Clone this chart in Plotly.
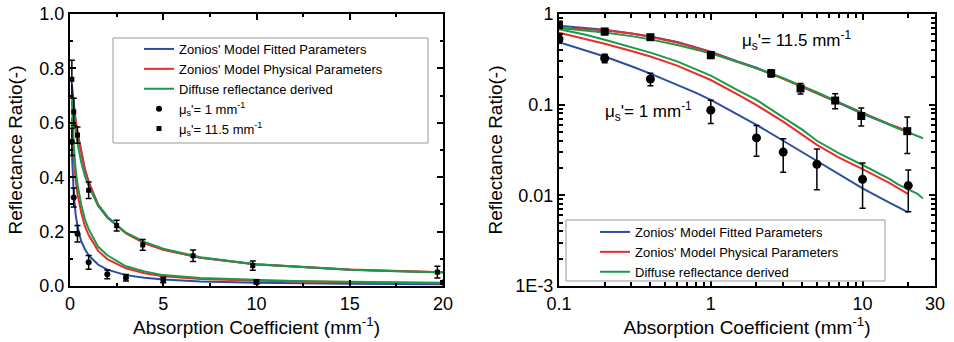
import plotly.graph_objects as go
from plotly.subplots import make_subplots

# ---- measured data ----
x_s1 = [0.1, 0.2, 0.4, 1, 2, 3, 5, 10, 20]
y_s1 = [0.53, 0.325, 0.192, 0.087, 0.043, 0.030, 0.022, 0.015, 0.0128]
e_s1 = [0.05, 0.035, 0.03, 0.025, 0.016, 0.012, 0.0105, 0.0078, 0.0062]

x_s115 = [0.1, 0.2, 0.4, 1, 2.5, 3.9, 6.6, 9.8, 19.7]
y_s115 = [0.76, 0.64, 0.555, 0.352, 0.222, 0.151, 0.111, 0.075, 0.051]
e_s115 = [0.07, 0.05, 0.03, 0.03, 0.02, 0.02, 0.021, 0.017, 0.022]

# ---- model curves ----
x_model = [0.1, 0.15, 0.2, 0.3, 0.4, 0.6, 0.8, 1, 1.5, 2, 3, 4, 5, 7, 10, 15, 20]
blue_s1 = [0.49, 0.40, 0.34, 0.265, 0.22, 0.165, 0.135, 0.113, 0.079, 0.060, 0.040,
           0.030, 0.0235, 0.0168, 0.0119, 0.0083, 0.0065]
red_s1 = [0.62, 0.53, 0.47, 0.39, 0.34, 0.27, 0.22, 0.187, 0.13, 0.099, 0.065,
          0.047, 0.036, 0.026, 0.0195, 0.0137, 0.0103]
blue_s115 = [0.74, 0.70, 0.67, 0.61, 0.565, 0.49, 0.43, 0.384, 0.30, 0.255, 0.195,
             0.158, 0.134, 0.104, 0.079, 0.060, 0.050]
red_s115 = [0.70, 0.68, 0.66, 0.61, 0.56, 0.485, 0.425, 0.38, 0.298, 0.252, 0.193,
            0.157, 0.133, 0.104, 0.080, 0.061, 0.051]

x_diffuse = [0.1, 0.15, 0.2, 0.3, 0.4, 0.6, 0.8, 1, 1.5, 2, 3, 4, 5, 7, 10, 12, 15,
             17, 20, 21, 22, 23, 24, 25]
green_s1 = [0.68, 0.59, 0.52, 0.43, 0.375, 0.30, 0.245, 0.209, 0.145, 0.113, 0.0725,
            0.053, 0.040, 0.029, 0.0216, 0.0185, 0.0152, 0.0133, 0.0116, 0.0113,
            0.0107, 0.0104, 0.0098, 0.0092]
green_s115 = [0.70, 0.66, 0.625, 0.57, 0.525, 0.455, 0.405, 0.368, 0.295, 0.252, 0.196,
              0.162, 0.137, 0.106, 0.080, 0.071, 0.060, 0.055, 0.0495, 0.048, 0.0465,
              0.045, 0.044, 0.0426]

names = ["Zonios' Model Fitted Parameters", "Zonios' Model Physical Parameters",
         "Diffuse reflectance derived"]
name_s1 = "μ<sub>s</sub>'= 1 mm<sup>-1</sup>"
name_s115 = "μ<sub>s</sub>'= 11.5 mm<sup>-1</sup>"

BLUE = "#2c4da3"
RED = "#ec2b2b"
GREEN = "#1b9a4a"
FONT = "Liberation Sans, Arial, sans-serif"

fig = make_subplots(rows=1, cols=2)

for col, leg in [(1, "legend"), (2, "legend2")]:
    curves = [
        (x_model, blue_s1, BLUE, names[0], True),
        (x_model, blue_s115, BLUE, names[0], False),
        (x_model, red_s1, RED, names[1], True),
        (x_model, red_s115, RED, names[1], False),
        (x_diffuse, green_s1, GREEN, names[2], True),
        (x_diffuse, green_s115, GREEN, names[2], False),
    ]
    for xs, ys, c, nm, show in curves:
        fig.add_trace(go.Scatter(x=xs, y=ys, mode="lines", name=nm,
                                 line=dict(color=c, width=2),
                                 showlegend=show, legend=leg,
                                 legendgroup=nm + leg), row=1, col=col)
    msize = 6 if col == 1 else 9
    fig.add_trace(go.Scatter(x=x_s1, y=y_s1, mode="markers", name=name_s1,
                             marker=dict(symbol="circle", color="black", size=msize),
                             error_y=dict(type="data", array=e_s1, color="black",
                                          thickness=1.5, width=3),
                             showlegend=(col == 1), legend=leg), row=1, col=col)
    fig.add_trace(go.Scatter(x=x_s115, y=y_s115, mode="markers", name=name_s115,
                             marker=dict(symbol="square", color="black", size=msize - 1),
                             error_y=dict(type="data", array=e_s115, color="black",
                                          thickness=1.5, width=3),
                             showlegend=(col == 1), legend=leg), row=1, col=col)

# the page's body margin is removed (see post_script), so the figure fills the window
W, H = 954, 342
def px(xp):
    return xp / W
def py(yp):
    return 1 - yp / H

axis_common = dict(showline=True, linecolor="black", linewidth=2, mirror="allticks",
                   ticks="inside", ticklen=6, tickwidth=2, tickcolor="black",
                   showgrid=False, zeroline=False, automargin=False,
                   ticklabeloverflow="allow",
                   tickfont=dict(family=FONT, size=18, color="black"),
                   title_font=dict(family=FONT, size=19, color="black"))

fig.update_xaxes(**axis_common)
fig.update_yaxes(**axis_common)

fig.update_xaxes(range=[0, 20], tickvals=[0, 5, 10, 15, 20],
                 minor=dict(ticks="inside", ticklen=3, tickwidth=2, tickcolor="black",
                            dtick=2.5, tick0=0),
                 domain=[px(70), px(443)],
                 title_text="Absorption Coefficient (mm<sup>-1</sup>)",
                 title_standoff=4, row=1, col=1)
fig.update_yaxes(range=[0, 1.0], tickvals=[0, 0.2, 0.4, 0.6, 0.8, 1.0], tickformat=".1f",
                 minor=dict(ticks="inside", ticklen=3, tickwidth=2, tickcolor="black",
                            dtick=0.1, tick0=0),
                 domain=[py(286), py(14)],
                 title_text="Reflectance Ratio(-)", title_standoff=12, row=1, col=1)

minor_x = [0.2, 0.3, 0.4, 0.5, 0.6, 0.7, 0.8, 0.9, 2, 3, 4, 5, 6, 7, 8, 9, 20]
minor_y = [0.002, 0.003, 0.004, 0.005, 0.006, 0.007, 0.008, 0.009,
           0.02, 0.03, 0.04, 0.05, 0.06, 0.07, 0.08, 0.09,
           0.2, 0.3, 0.4, 0.5, 0.6, 0.7, 0.8, 0.9]
fig.update_xaxes(type="log", range=[-1, 1.4771], tickvals=[0.1, 1, 10, 30],
                 ticktext=["0.1", "1", "10", "30"],
                 minor=dict(ticks="inside", ticklen=4, tickwidth=2, tickcolor="black",
                            tickvals=minor_x),
                 domain=[px(559), px(935)],
                 title_text="Absorption Coefficient (mm<sup>-1</sup>)",
                 title_standoff=4, row=1, col=2)
fig.update_yaxes(type="log", range=[-3, 0], tickvals=[0.001, 0.01, 0.1, 1],
                 ticktext=["1E-3", "0.01", "0.1", "1"],
                 minor=dict(ticks="inside", ticklen=4, tickwidth=2, tickcolor="black",
                            tickvals=minor_y),
                 domain=[py(286), py(14)],
                 title_text="Reflectance Ratio(-)", title_standoff=8, row=1, col=2)

legend_style = dict(bgcolor="rgba(255,255,255,0)", borderwidth=0,
                    font=dict(family=FONT, size=13, color="black"),
                    xanchor="left", yanchor="top", tracegroupgap=0, itemwidth=30)

fig.update_layout(
    width=W, height=H, margin=dict(l=0, r=0, t=0, b=0, autoexpand=False),
    paper_bgcolor="white", plot_bgcolor="white",
    font=dict(family=FONT, color="black"),
    legend=dict(x=px(139), y=py(34), **legend_style),
    legend2=dict(x=px(595), y=py(217), **legend_style),
    shapes=[
        dict(type="rect", xref="paper", yref="paper", x0=px(113), x1=px(428),
             y0=py(143), y1=py(38), line=dict(color="#999999", width=1), layer="below"),
        dict(type="rect", xref="paper", yref="paper", x0=px(566), x1=px(885),
             y0=py(281), y1=py(220), line=dict(color="#999999", width=1),
             fillcolor="white", layer="above"),
    ],
    annotations=[
        dict(text="μ<sub>s</sub>'= 11.5 mm<sup>-1</sup>", xref="x2", yref="y2",
             x=0.192, y=-0.29, xanchor="left", yanchor="middle", showarrow=False,
             font=dict(family=FONT, size=17, color="black")),
        dict(text="μ<sub>s</sub>'= 1 mm<sup>-1</sup>", xref="x2", yref="y2",
             x=-0.71, y=-1.07, xanchor="left", yanchor="middle", showarrow=False,
             font=dict(family=FONT, size=17, color="black")),
    ],
)

fig.write_html("out.html", config={"displayModeBar": False},
               post_script="document.body.style.margin='0';document.body.style.padding='0';")
